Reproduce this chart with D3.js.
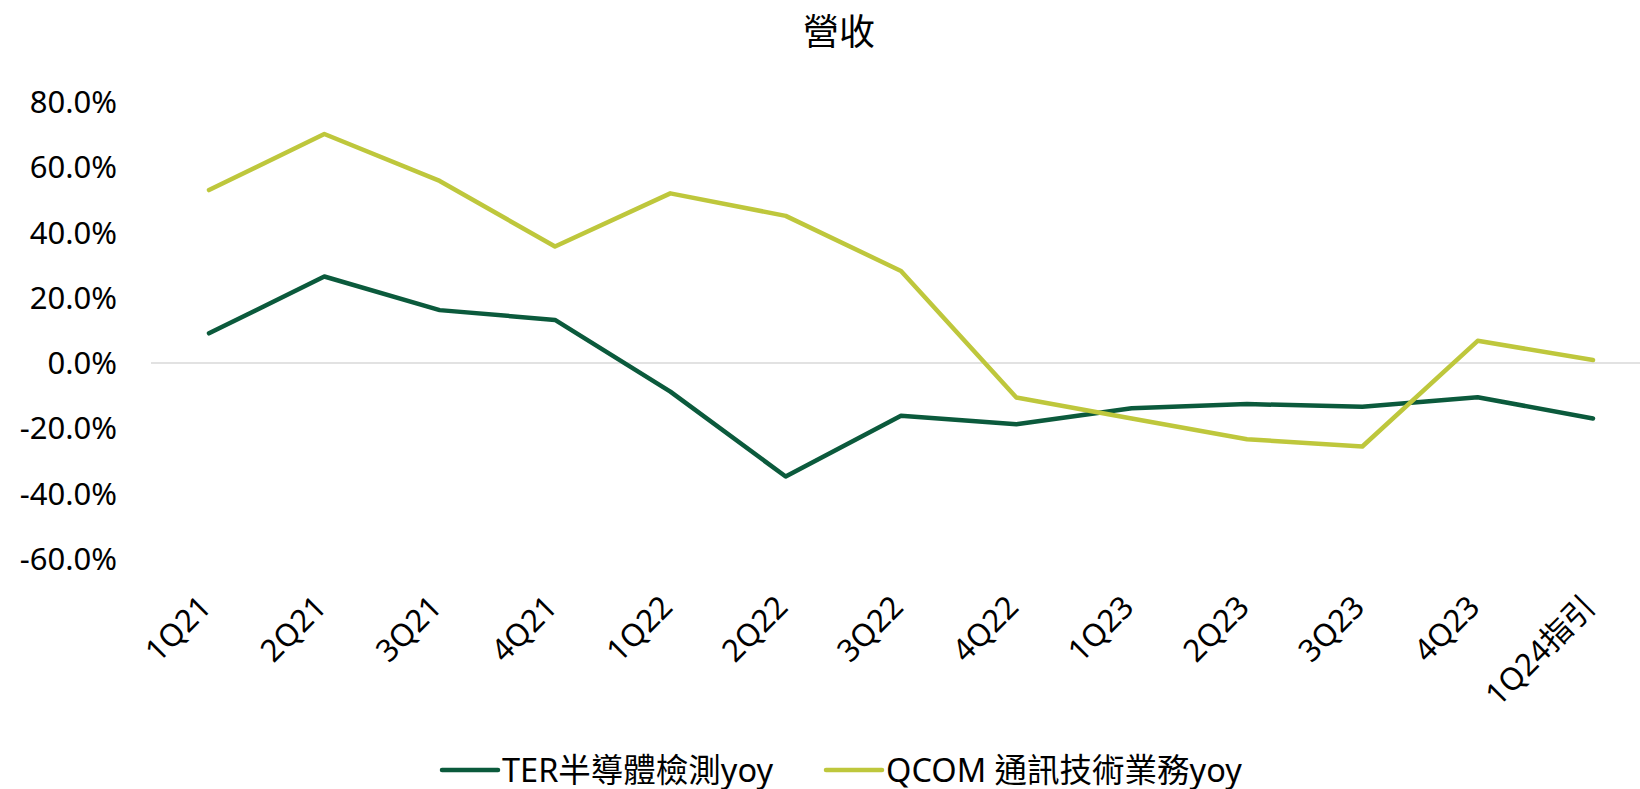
<!DOCTYPE html>
<html>
<head>
<meta charset="utf-8">
<script src="https://cdn.jsdelivr.net/npm/d3@7"></script>
<style>
  body { margin: 0; background: #ffffff; }
  svg { display: block; }
</style>
</head>
<body>
<div id="chart"></div>
<script>
// quarters on the x axis
const quarters = ["1Q21", "2Q21", "3Q21", "4Q21", "1Q22", "2Q22", "3Q22",
                  "4Q22", "1Q23", "2Q23", "3Q23", "4Q23", "1Q24指引"];

// yoy growth, in %
const terYoy  = [9.1, 26.5, 16.2, 13.2, -8.8, -34.8, -16.2, -18.8, -13.9, -12.6, -13.4, -10.5, -17.0];
const qcomYoy = [53.0, 70.2, 55.8, 35.7, 52.0, 45.1, 28.2, -10.6, -17.0, -23.4, -25.6, 6.8, 0.9];

const seriesNames = ["TER半導體檢測yoy", "QCOM 通訊技術業務yoy"];
const yTicks = [80, 60, 40, 20, 0, -20, -40, -60];

const W = 1640, H = 789;
const fontFamily = "'Noto Sans', 'Noto Sans CJK TC', sans-serif";
const colors = { ter: "#0b5a3c", qcom: "#bec73c" };

const svg = d3.select("#chart").append("svg")
    .attr("width", W)
    .attr("height", H)
    .style("font-family", fontFamily);

const x = d3.scalePoint()
    .domain(quarters)
    .range([209, 1593]);

const y = d3.scaleLinear()
    .domain([-60, 80])
    .range([558.7, 102]);

// title
svg.append("text")
    .attr("x", 839)
    .attr("y", 45)
    .attr("text-anchor", "middle")
    .attr("font-size", 36)
    .attr("fill", "#000")
    .text("營收");

// y axis labels (no axis line, just the text)
svg.append("g")
    .selectAll("text")
    .data(yTicks)
    .enter()
    .append("text")
    .attr("x", 117)
    .attr("y", d => y(d))
    .attr("dy", "0.36em")
    .attr("text-anchor", "end")
    .attr("font-size", 31)
    .attr("fill", "#000")
    .text(d => d.toFixed(1) + "%");

// zero line
svg.append("line")
    .attr("x1", 151)
    .attr("x2", W)
    .attr("y1", y(0))
    .attr("y2", y(0))
    .attr("stroke", "#d9d9d9")
    .attr("stroke-width", 1.5);

// x labels, rotated
svg.append("g")
    .selectAll("text")
    .data(quarters)
    .enter()
    .append("text")
    .attr("transform", d => `translate(${x(d) + 4}, 609) rotate(-45)`)
    .attr("text-anchor", "end")
    .attr("font-size", 31)
    .attr("fill", "#000")
    .text(d => d);

// lines
const line = d3.line()
    .x((d, i) => x(quarters[i]))
    .y(d => y(d));

[[terYoy, colors.ter], [qcomYoy, colors.qcom]].forEach(([vals, c]) => {
    svg.append("path")
        .datum(vals)
        .attr("d", line)
        .attr("fill", "none")
        .attr("stroke", c)
        .attr("stroke-width", 4.5)
        .attr("stroke-linejoin", "round")
        .attr("stroke-linecap", "round");
});

// legend
const legendItems = [
    { name: seriesNames[0], color: colors.ter, x: 442 },
    { name: seriesNames[1], color: colors.qcom, x: 826 }
];

const legend = svg.append("g")
    .selectAll("g")
    .data(legendItems)
    .enter()
    .append("g")
    .attr("transform", d => `translate(${d.x}, 770)`);

legend.append("line")
    .attr("x1", 0)
    .attr("x2", 56)
    .attr("stroke", d => d.color)
    .attr("stroke-width", 4.5)
    .attr("stroke-linecap", "round");

legend.append("text")
    .attr("x", 60)
    .attr("dy", "0.36em")
    .attr("font-size", 32.5)
    .attr("fill", "#000")
    .text(d => d.name);
</script>
</body>
</html>
